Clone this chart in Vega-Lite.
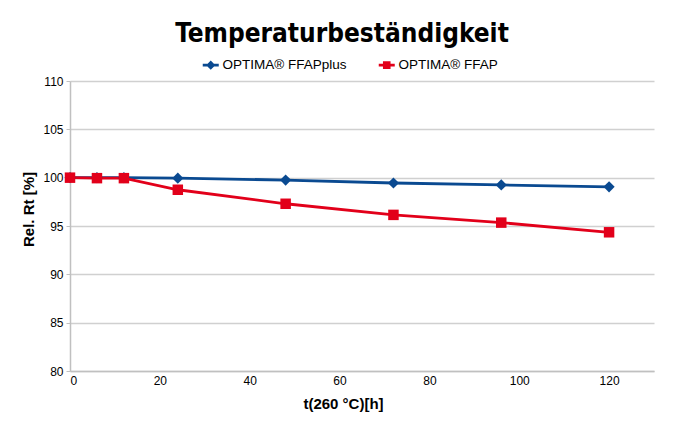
{
  "$schema": "https://vega.github.io/schema/vega-lite/v6.json",
  "autosize": {"type": "none"},
  "padding": {"left": 70, "top": 81, "right": 25, "bottom": 50},
  "width": 584,
  "height": 290,
  "background": "white",
  "config": {
    "font": "Liberation Sans",
    "view": {"stroke": null},
    "axis": {"labelFont": "Liberation Sans", "titleFont": "Liberation Sans", "labelColor": "#000", "titleColor": "#000"}
  },
  "title": {
    "text": "Temperaturbeständigkeit",
    "font": "Liberation Sans Narrow, DejaVu Sans Condensed, Liberation Sans",
    "fontSize": 26,
    "fontWeight": "bold",
    "color": "#000",
    "anchor": "middle",
    "dx": -20,
    "offset": 11
  },
  "data": {
    "values": [
      {"t": 0, "v": 100.0, "s": "OPTIMA® FFAPplus"},
      {"t": 6, "v": 100.0, "s": "OPTIMA® FFAPplus"},
      {"t": 12, "v": 100.0, "s": "OPTIMA® FFAPplus"},
      {"t": 24, "v": 99.95, "s": "OPTIMA® FFAPplus"},
      {"t": 48, "v": 99.75, "s": "OPTIMA® FFAPplus"},
      {"t": 72, "v": 99.45, "s": "OPTIMA® FFAPplus"},
      {"t": 96, "v": 99.25, "s": "OPTIMA® FFAPplus"},
      {"t": 120, "v": 99.05, "s": "OPTIMA® FFAPplus"},
      {"t": 0, "v": 100.0, "s": "OPTIMA® FFAP"},
      {"t": 6, "v": 99.95, "s": "OPTIMA® FFAP"},
      {"t": 12, "v": 99.95, "s": "OPTIMA® FFAP"},
      {"t": 24, "v": 98.75, "s": "OPTIMA® FFAP"},
      {"t": 48, "v": 97.3, "s": "OPTIMA® FFAP"},
      {"t": 72, "v": 96.15, "s": "OPTIMA® FFAP"},
      {"t": 96, "v": 95.35, "s": "OPTIMA® FFAP"},
      {"t": 120, "v": 94.35, "s": "OPTIMA® FFAP"}
    ]
  },
  "encoding": {
    "x": {
      "field": "t", "type": "quantitative",
      "scale": {"domain": [0, 130], "nice": false},
      "axis": {
        "values": [0, 20, 40, 60, 80, 100, 120],
        "title": "t(260 °C)[h]",
        "titleFontSize": 15, "titleFontWeight": "bold",
        "titleX": 273, "titleY": 37, "titleBaseline": "alphabetic",
        "labelFontSize": 12, "labelPadding": 4,
        "ticks": false, "grid": false,
        "domainColor": "#c0c0c0", "domainWidth": 1.5
      }
    },
    "y": {
      "field": "v", "type": "quantitative",
      "scale": {"domain": [80, 110], "nice": false, "zero": false},
      "axis": {
        "values": [80, 85, 90, 95, 100, 105, 110],
        "title": "Rel. Rt [%]",
        "titleFontSize": 15, "titleFontWeight": "bold",
        "titleX": -34, "titleY": 128, "titleAnchor": "middle",
        "labelFontSize": 12, "labelPadding": 3,
        "tickSize": 4, "tickColor": "#c0c0c0",
        "grid": true, "gridColor": "#d0d0d0", "gridWidth": 1.5,
        "domainColor": "#c0c0c0", "domainWidth": 1.5
      }
    },
    "color": {
      "field": "s", "type": "nominal",
      "scale": {"domain": ["OPTIMA® FFAPplus", "OPTIMA® FFAP"], "range": ["#0a4a91", "#e2001a"]},
      "legend": {
        "orient": "none", "legendX": 134, "legendY": -23,
        "direction": "horizontal", "title": null,
        "labelFontSize": 13.5, "labelColor": "#000", "labelFont": "Liberation Sans",
        "symbolSize": 64, "symbolStrokeWidth": 0, "columnPadding": 31, "labelOffset": 5,
        "encode": {"symbols": {"update": {
          "shape": {"signal": "datum.value == 'OPTIMA® FFAPplus' ? 'M-2,-0.32H2V0.32H-2Z M0,-1.15L1.15,0L0,1.15L-1.15,0Z' : 'M-2,-0.32H2V0.32H-2Z M-0.95,-0.95H0.95V0.95H-0.95Z'"},
          "fill": {"signal": "datum.value == 'OPTIMA® FFAPplus' ? '#0a4a91' : '#e2001a'"},
          "stroke": {"value": null},
          "opacity": {"value": 1}
        }}}
      }
    }
  },
  "layer": [
    {
      "mark": {"type": "line", "strokeWidth": 2.8}
    },
    {
      "transform": [{"filter": "datum.s == 'OPTIMA® FFAPplus'"}],
      "mark": {"type": "point", "shape": "diamond", "filled": true, "opacity": 1, "size": 125}
    },
    {
      "transform": [{"filter": "datum.s == 'OPTIMA® FFAP'"}],
      "mark": {"type": "point", "shape": "square", "filled": true, "opacity": 1, "size": 110}
    }
  ]
}
